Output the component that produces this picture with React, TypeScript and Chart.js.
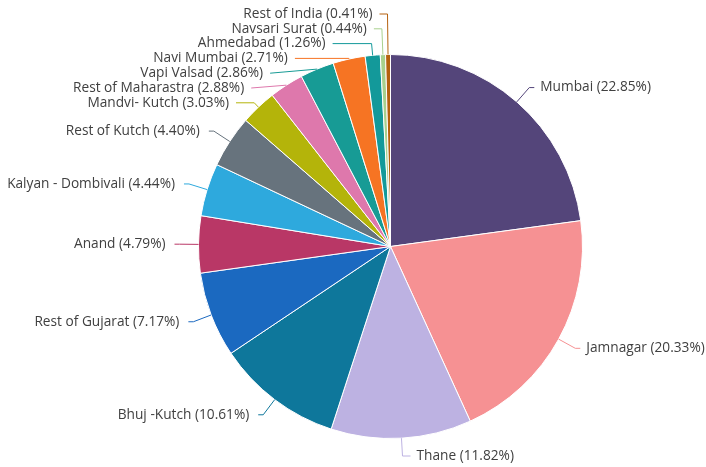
import { useEffect, useRef } from 'react';
import { Chart, registerables } from 'chart.js';

Chart.register(...registerables);

const categories = [
  'Mumbai', 'Jamnagar', 'Thane', 'Bhuj -Kutch', 'Rest of Gujarat', 'Anand',
  'Kalyan - Dombivali', 'Rest of Kutch', 'Mandvi- Kutch', 'Rest of Maharastra',
  'Vapi Valsad', 'Navi Mumbai', 'Ahmedabad', 'Navsari Surat', 'Rest of India',
];
const shares = [22.85, 20.33, 11.82, 10.61, 7.17, 4.79, 4.44, 4.40, 3.03, 2.88, 2.86, 2.71, 1.26, 0.44, 0.41];
const colors = [
  '#54457a', '#f69193', '#bdb2e2', '#0e779b', '#1b69c0', '#b93766',
  '#2ea9dd', '#67737d', '#b4b40a', '#de78ac', '#179b95', '#f67423',
  '#13999a', '#a8d08d', '#b5610e',
];

const LABEL_FONT = '13.7px "Open Sans"';
const LABEL_COLOR = '#404040';

type Item = {
  i: number; a: number; cx: number; cy: number; r: number; R: number;
  left: boolean; target: number; y: number;
};

function distribute(list: Item[], lo: number, hi: number, h: number) {
  list.sort((p, q) => p.target - q.target);
  const groups = list.map((it) => ({ members: [it], sum: it.target, pos: 0 }));
  const place = (g: { members: Item[]; sum: number; pos: number }) => {
    const size = g.members.length * h;
    g.pos = Math.min(Math.max(g.sum / g.members.length - size / 2, lo), hi - size);
  };
  groups.forEach(place);
  let merged = true;
  while (merged) {
    merged = false;
    for (let k = 0; k < groups.length - 1; k++) {
      const g = groups[k];
      const n = groups[k + 1];
      if (g.pos + g.members.length * h > n.pos + 0.01) {
        g.members.push(...n.members);
        g.sum += n.sum;
        groups.splice(k + 1, 1);
        place(g);
        merged = true;
        break;
      }
    }
  }
  groups.forEach((g) => g.members.forEach((m, j) => { m.y = g.pos + j * h + h / 2; }));
}

const outsideLabels = {
  id: 'outsideLabels',
  afterDatasetsDraw(chart: any) {
    const meta = chart.getDatasetMeta(0);
    const ctx = chart.ctx as CanvasRenderingContext2D;
    const labelDistance = 19;
    const lineH = 14.8;
    const padding = 5;
    const items: Item[] = meta.data.map((arc: any, i: number) => {
      const p = arc.getProps(['x', 'y', 'startAngle', 'endAngle', 'outerRadius'], true);
      const a = (p.startAngle + p.endAngle) / 2;
      const R = p.outerRadius + labelDistance;
      return {
        i, a, cx: p.x, cy: p.y, r: p.outerRadius, R,
        left: Math.cos(a) < 0, target: p.y + R * Math.sin(a), y: 0,
      };
    });
    const lo = 6.6;
    const hi = chart.height - 3.6;
    distribute(items.filter((it) => it.left), lo, hi, lineH);
    distribute(items.filter((it) => !it.left), lo, hi, lineH);

    ctx.save();
    ctx.font = LABEL_FONT;
    ctx.textBaseline = 'middle';
    items.forEach((it) => {
      const { cx, cy, r, R, a, left, y } = it;
      const dy = y - cy;
      const sgn = left ? -1 : 1;
      const moved = Math.abs(y - it.target) > 1;
      const gx = cx + sgn * Math.sqrt(Math.max(0, R * R - dy * dy));
      const s = Math.sin(a);
      const c = Math.cos(a);
      const t = Math.abs(s) > 1e-6 ? dy / s : -1;
      const rayX = t > 0 ? cx + t * c : gx;
      let x = moved ? gx : gx + sgn * padding;
      if (Math.abs(dy) > R - 3 && t > 0) x = rayX + sgn * 8;
      const ex = cx + r * c;
      const ey = cy + r * s;
      ctx.beginPath();
      ctx.strokeStyle = colors[it.i];
      ctx.lineWidth = 1;
      ctx.moveTo(x, y);
      const mn = Math.min(x, ex);
      const mx = Math.max(x, ex);
      if (t > 0 && rayX >= mn && rayX <= mx) ctx.lineTo(rayX, y);
      ctx.lineTo(ex, ey);
      ctx.stroke();
      ctx.fillStyle = LABEL_COLOR;
      ctx.textAlign = left ? 'right' : 'left';
      const gap = left ? (moved ? 7 : 9) : 6;
      ctx.fillText(`${categories[it.i]} (${shares[it.i].toFixed(2)}%)`, x + sgn * gap, y);
    });
    ctx.restore();
  },
};

export default function App() {
  const ref = useRef<HTMLCanvasElement | null>(null);
  useEffect(() => {
    if (!ref.current) return;
    const chart = new Chart(ref.current, {
      type: 'pie',
      data: {
        labels: categories,
        datasets: [{
          data: shares,
          backgroundColor: colors,
          borderColor: '#ffffff',
          borderWidth: 1,
        }],
      },
      options: {
        responsive: false,
        animation: false,
        radius: 192,
        layout: { padding: { top: 54, bottom: 28, left: 150, right: 75 } },
        plugins: { legend: { display: false }, tooltip: { enabled: false } },
      } as any,
      plugins: [outsideLabels],
    });
    return () => chart.destroy();
  }, []);
  return (
    <div style={{ position: 'absolute', left: 0, top: 0, width: 706, height: 467, background: '#fff' }}>
      <canvas ref={ref} width={706} height={467} style={{ display: 'block' }} />
    </div>
  );
}
